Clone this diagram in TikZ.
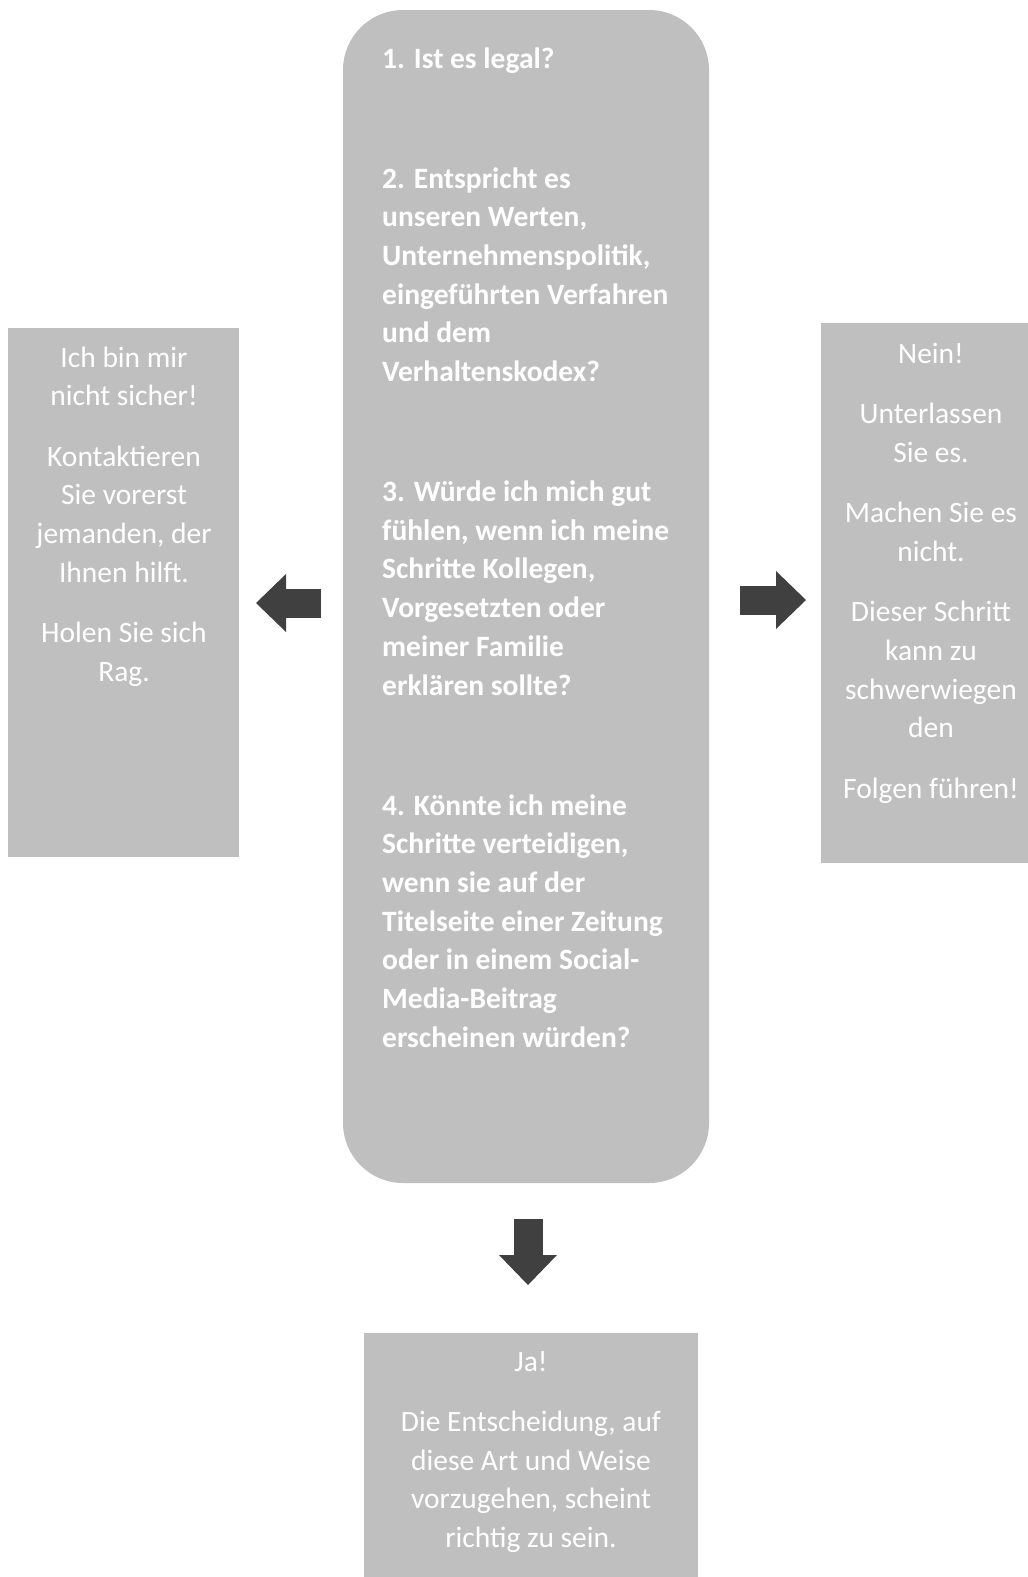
\documentclass[tikz,border=0pt]{standalone}
\usepackage{fontspec}
\setmainfont{Carlito}
\usetikzlibrary{arrows.meta}
\definecolor{boxgray}{HTML}{BFBFBF}
\definecolor{arrowgray}{HTML}{404040}
\begin{document}
\begin{tikzpicture}[x=1pt,y=-1pt,
   box/.style={fill=boxgray,draw=none,inner sep=0,minimum width=#1},
   txt/.style={text=white,inner sep=0,align=center,anchor=base,font=\fontsize{29.5}{38.7}\selectfont},
   boldtxt/.style={txt,align=left,anchor=base west,font=\fontsize{29.5}{38.7}\selectfont\bfseries},
   blockarrow/.style={arrowgray,line width=29pt,-{Triangle[length=30pt,width=58pt,line width=0pt]}}]
   \useasboundingbox (0,0) rectangle (1028,1577);

   \node[box=366pt,minimum height=1173pt,rounded corners=60pt] (fragen) at (526,596.5) {};
   \node[box=231pt,minimum height=529pt] (unsicher) at (123.5,592.5) {};
   \node[box=207pt,minimum height=540pt] (nein) at (924.5,593) {};
   \node[box=334pt,minimum height=244pt] (ja) at (531,1455) {};

   % the base of each text node is its last line
   \node[boldtxt] (fragentext) at (382,1047.2) {1. Ist es legal?\\[81.3pt]
      2. Entspricht es\\unseren Werten,\\Unternehmenspolitik,\\eingeführten Verfahren\\und dem\\Verhaltenskodex?\\[81.3pt]
      3. Würde ich mich gut\\fühlen, wenn ich meine\\Schritte Kollegen,\\Vorgesetzten oder\\meiner Familie\\erklären sollte?\\[81.3pt]
      4. Könnte ich meine\\Schritte verteidigen,\\wenn sie auf der\\Titelseite einer Zeitung\\oder in einem Social-\\Media-Beitrag\\erscheinen würden?};
   \node[txt] (unsichertext) at (124,681.3) {Ich bin mir\\nicht sicher!\\[21.7pt]
      Kontaktieren\\Sie vorerst\\jemanden, der\\Ihnen hilft.\\[21.7pt]
      Holen Sie sich\\Rag.};
   \node[txt] (neintext) at (931,798.1) {Nein!\\[21.7pt]
      Unterlassen\\Sie es.\\[21.7pt]
      Machen Sie es\\nicht.\\[21.7pt]
      Dieser Schritt\\kann zu\\schwerwiegen\\den\\[21.7pt]
      Folgen führen!};
   \node[txt] (jatext) at (531,1547.5) {Ja!\\[21.7pt]
      Die Entscheidung, auf\\diese Art und Weise\\vorzugehen, scheint\\richtig zu sein.};

   \coordinate (links1) at (321,603);
   \coordinate (links2) at (256,603);
   \coordinate (rechts1) at (740,600);
   \coordinate (rechts2) at (806,600);
   \coordinate (unten1) at (528,1219);
   \coordinate (unten2) at (528,1285);
   \draw[blockarrow] (links1) -- (links2);
   \draw[blockarrow] (rechts1) -- (rechts2);
   \draw[blockarrow] (unten1) -- (unten2);
\end{tikzpicture}
\end{document}
